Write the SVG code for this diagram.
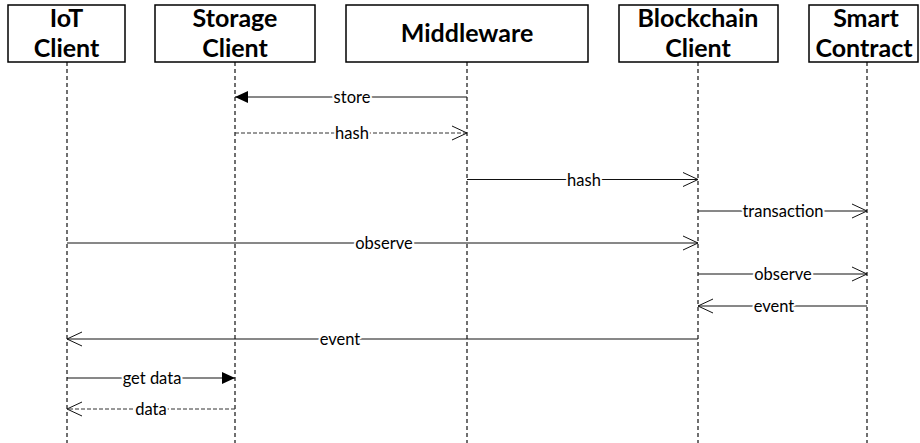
<svg xmlns="http://www.w3.org/2000/svg" width="920" height="443" viewBox="0 0 920 443">
<style>
.box{fill:#fff;stroke:#000;stroke-width:1.5}
.ht{font-family:Lato,"Liberation Sans",sans-serif;font-weight:bold;font-size:25px;text-anchor:middle;fill:#000}
.life{stroke:#111;stroke-width:1.2;stroke-dasharray:4,3;fill:none}
.msg{stroke:#111;stroke-width:1;fill:none}
.ret{stroke:#333;stroke-width:1;stroke-dasharray:4,2;fill:none}
.lbl{font-family:Lato,"Liberation Sans",sans-serif;font-size:16.5px;text-anchor:middle;fill:#000;stroke:#fff;stroke-width:4;paint-order:stroke;stroke-linejoin:round}
</style>
<defs>
<marker id="open" markerUnits="userSpaceOnUse" markerWidth="18" markerHeight="18" refX="16" refY="8" orient="auto" viewBox="0 0 18 16">
<path d="M1,1 L16,8 L1,15" fill="none" stroke="#111" stroke-width="1"/>
</marker>
<marker id="fill" markerUnits="userSpaceOnUse" markerWidth="16" markerHeight="14" refX="14" refY="7" orient="auto" viewBox="0 0 16 14">
<path d="M1,1 L14,7 L1,13 Z" fill="#000"/>
</marker>
</defs>
<rect width="920" height="443" fill="#fff"/>
<g id="lifelines">
<line class="life" x1="67" y1="62" x2="67" y2="443"/>
<line class="life" x1="235" y1="62" x2="235" y2="443"/>
<line class="life" x1="467" y1="62" x2="467" y2="443"/>
<line class="life" x1="698" y1="62" x2="698" y2="443"/>
<line class="life" x1="867" y1="62" x2="867" y2="443"/>
</g>
<g id="iot-client">
<rect class="box" x="8" y="5" width="117" height="57"/>
<text class="ht" x="66.5" y="27">IoT</text>
<text class="ht" x="66.5" y="57">Client</text>
</g>
<g id="storage-client">
<rect class="box" x="155" y="5" width="160" height="57"/>
<text class="ht" x="235" y="27">Storage</text>
<text class="ht" x="235" y="57">Client</text>
</g>
<g id="middleware">
<rect class="box" x="346" y="5" width="242" height="57"/>
<text class="ht" x="467" y="42">Middleware</text>
</g>
<g id="blockchain-client">
<rect class="box" x="619" y="5" width="159" height="57"/>
<text class="ht" x="698" y="27">Blockchain</text>
<text class="ht" x="698" y="57">Client</text>
</g>
<g id="smart-contract">
<rect class="box" x="809" y="5" width="109" height="57"/>
<text class="ht" x="866" y="27">Smart</text>
<text class="ht" x="864" y="57">Contract</text>
</g>
<g id="connectors">
<line class="msg" x1="467" y1="97" x2="235" y2="97" marker-end="url(#fill)"/>
<text class="lbl" x="352" y="103">store</text>
<line class="ret" x1="235" y1="133" x2="467" y2="133" marker-end="url(#open)"/>
<text class="lbl" x="352" y="139">hash</text>
<line class="msg" x1="467" y1="179.5" x2="698" y2="179.5" marker-end="url(#open)"/>
<text class="lbl" x="584" y="185.5">hash</text>
<line class="msg" x1="698" y1="211" x2="867" y2="211" marker-end="url(#open)"/>
<text class="lbl" x="783" y="217">transaction</text>
<line class="msg" x1="67" y1="243" x2="698" y2="243" marker-end="url(#open)"/>
<text class="lbl" x="384" y="249">observe</text>
<line class="msg" x1="698" y1="274" x2="867" y2="274" marker-end="url(#open)"/>
<text class="lbl" x="783" y="280">observe</text>
<line class="msg" x1="867" y1="306" x2="698" y2="306" marker-end="url(#open)"/>
<text class="lbl" x="774" y="312">event</text>
<line class="msg" x1="698" y1="339" x2="67" y2="339" marker-end="url(#open)"/>
<text class="lbl" x="340" y="345">event</text>
<line class="msg" x1="67" y1="378" x2="235" y2="378" marker-end="url(#fill)"/>
<rect x="124" y="372" width="56" height="12" fill="#fff"/>
<text class="lbl" x="152" y="384">get data</text>
<line class="ret" x1="235" y1="409" x2="67" y2="409" marker-end="url(#open)"/>
<text class="lbl" x="151" y="415">data</text>
</g>
</svg>
